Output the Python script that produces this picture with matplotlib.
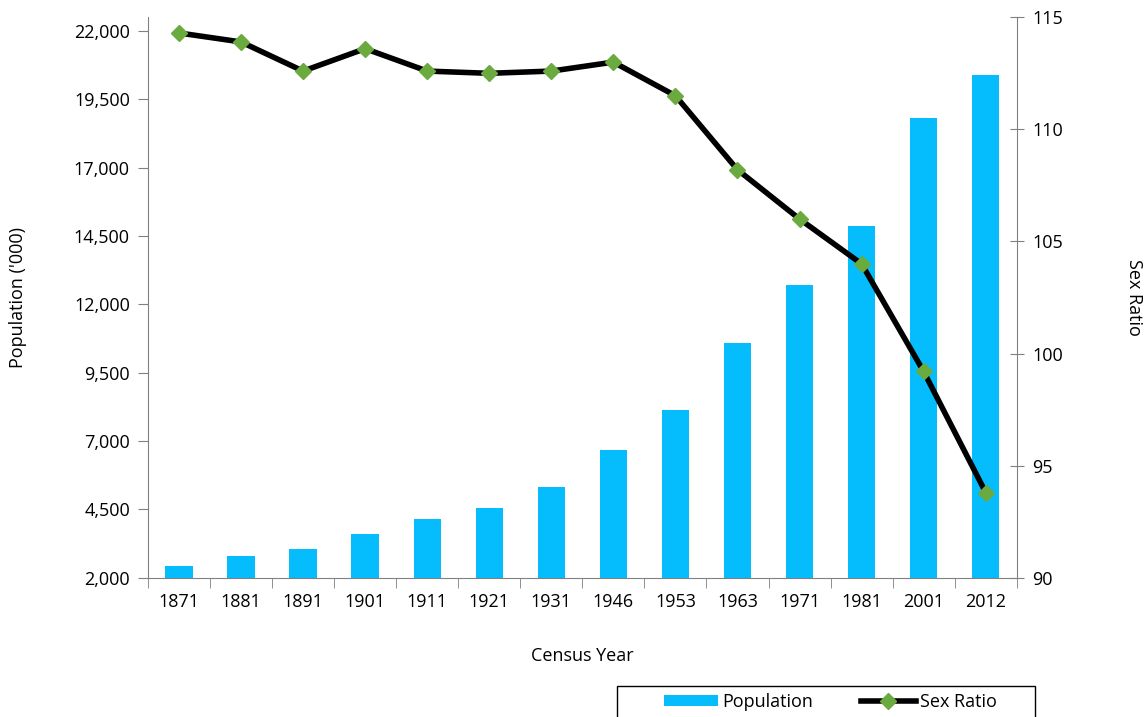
import matplotlib
matplotlib.use("Agg")
import matplotlib.pyplot as plt
from matplotlib.patches import Rectangle
import numpy as np

plt.rcParams["font.family"] = ["Open Sans", "DejaVu Sans"]

# census data
years = ["1871", "1881", "1891", "1901", "1911", "1921", "1931",
         "1946", "1953", "1963", "1971", "1981", "2001", "2012"]
population = [2430, 2790, 3050, 3600, 4145, 4540, 5330,
              6680, 8130, 10600, 12710, 14870, 18810, 20390]
sex_ratio = [114.3, 113.9, 112.6, 113.6, 112.6, 112.5, 112.6,
             113.0, 111.5, 108.2, 106.0, 104.0, 99.2, 93.8]

bar_color = "#05BCFD"
axis_color = "#808080"
fs = 13

fig = plt.figure(figsize=(11.46, 7.17), dpi=100)
ax = fig.add_axes([0.1291, 0.1943, 0.7581, 0.7816])
x = np.arange(len(years))

bars = ax.bar(x, population, width=0.44, bottom=0, color=bar_color,
              label="Population", zorder=2)
ax.set_xlim(-0.5, len(years) - 0.5)
ax.set_ylim(2000, 22500)
ax.set_yticks(np.arange(2000, 22001, 2500))
ax.set_yticklabels([f"{v:,}" for v in range(2000, 22001, 2500)])
ax.set_xticks(x)
ax.set_xticklabels(years)
ax.set_xticks(np.arange(-0.5, len(years)), minor=True)
ax.tick_params(axis="x", which="major", length=0, labelsize=fs, pad=11)
ax.tick_params(axis="x", which="minor", length=7, color=axis_color, direction="out")
ax.tick_params(axis="y", length=7, color=axis_color, labelsize=fs, pad=6)
ax.set_xlabel("Census Year", fontsize=fs, labelpad=26)
ax.set_ylabel("Population ('000)", fontsize=fs, labelpad=34)
for s in ["top", "right"]:
    ax.spines[s].set_visible(False)
ax.spines["left"].set_color(axis_color)
ax.spines["bottom"].set_color(axis_color)

ax2 = ax.twinx()
line, = ax2.plot(x, sex_ratio, color="black", lw=4, marker="D", ms=8,
                 mfc="#6AAA3F", mec="#6AAA3F", label="Sex Ratio", zorder=3)
ax2.set_ylim(90, 115)
ax2.set_yticks([90, 95, 100, 105, 110, 115])
ax2.tick_params(axis="y", length=10, direction="inout", color=axis_color,
                labelsize=fs, pad=6)
ax2.set_ylabel("Sex Ratio", fontsize=fs, rotation=270, labelpad=58)
for s in ["top", "left", "bottom"]:
    ax2.spines[s].set_visible(False)
ax2.spines["right"].set_color(axis_color)

# legend box drawn separately so the entries sit centred in a wide frame
fig.add_artist(Rectangle((617 / 1146, -0.01), (1035 - 617) / 1146,
                         (717 - 686) / 717 + 0.01, transform=fig.transFigure,
                         fill=False, ec="black", lw=1))
leg = fig.legend([bars, line], ["Population", "Sex Ratio"], ncol=2,
                 loc="center", bbox_to_anchor=(830 / 1146, 1 - 702 / 717),
                 fontsize=fs, frameon=False,
                 handlelength=3.0, handleheight=0.55, columnspacing=2.7,
                 borderpad=0, handletextpad=0.22)

fig.savefig("out.png", dpi=100)
